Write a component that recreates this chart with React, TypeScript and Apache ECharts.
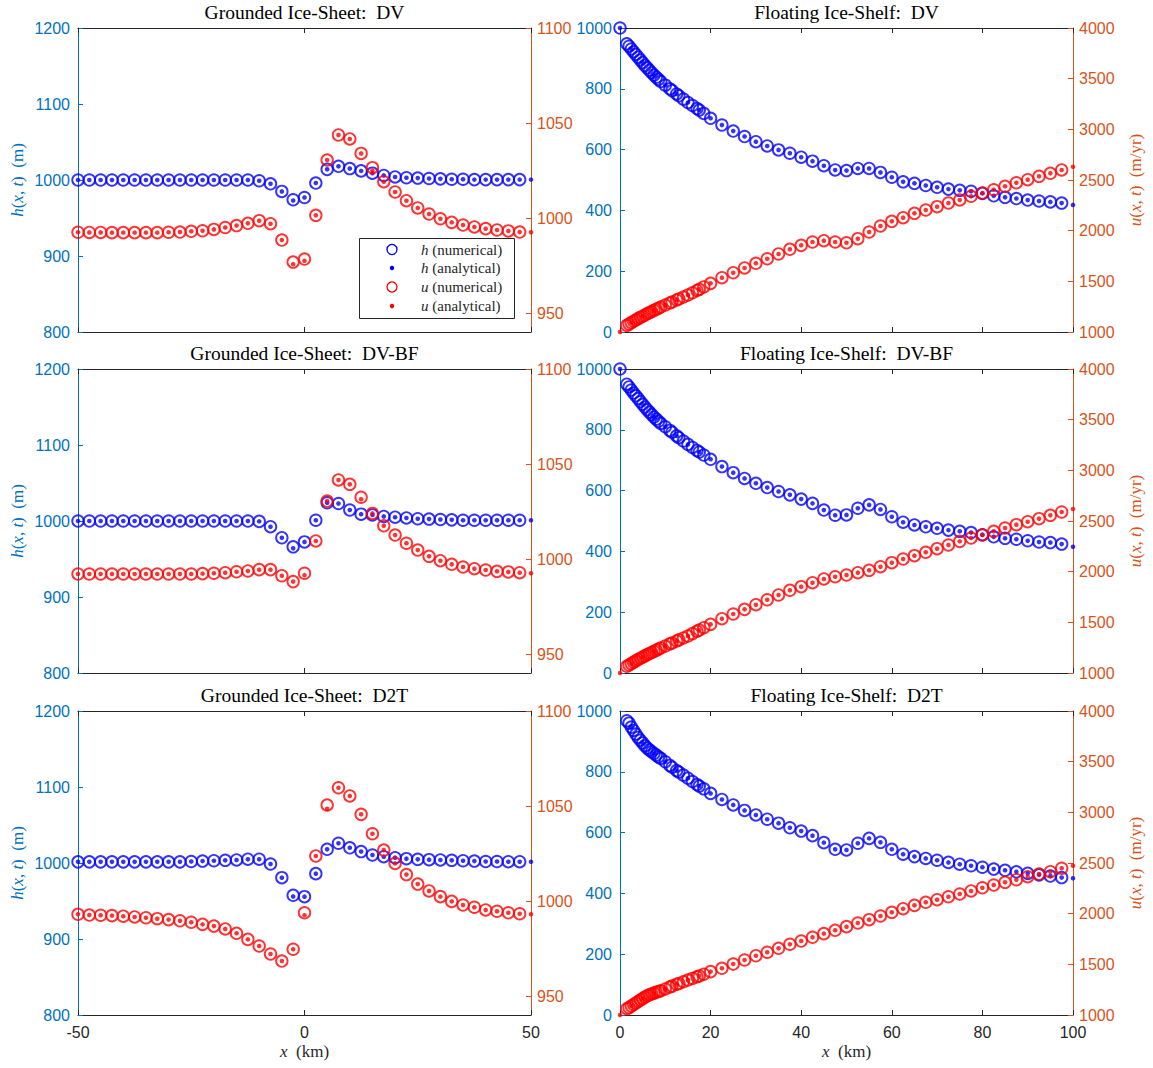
import { useEffect, useRef } from 'react';
import * as echarts from 'echarts';

// x positions (km)
const GROUND_X = [-50, -47.5, -45, -42.5, -40, -37.5, -35, -32.5, -30, -27.5, -25, -22.5, -20, -17.5, -15, -12.5, -10, -7.5, -5, -2.5, 0, 2.5, 5, 7.5, 10, 12.5, 15, 17.5, 20, 22.5, 25, 27.5, 30, 32.5, 35, 37.5, 40, 42.5, 45, 47.5, 50];
const SHELF_X = [0, 2.5, 5, 7.5, 10, 12.5, 15, 17.5, 20, 22.5, 25, 27.5, 30, 32.5, 35, 37.5, 40, 42.5, 45, 47.5, 50, 52.5, 55, 57.5, 60, 62.5, 65, 67.5, 70, 72.5, 75, 77.5, 80, 82.5, 85, 87.5, 90, 92.5, 95, 97.5, 100];
// refined numerical nodes close to the grounding line
const SHELF_FINE_X = [1.5, 2, 3, 3.5, 4, 4.5, 5.5, 6, 6.5, 7, 8, 8.5, 9, 11, 11.5, 13, 14, 16, 17, 18.5];

// Grounded ice-sheet, DV
const dvGroundHNum = [1000, 1000, 1000, 1000, 1000, 1000, 1000, 1000, 1000, 1000, 1000, 1000, 1000, 1000, 1000, 1000, 999, 995, 985, 974, 977, 996, 1014, 1018, 1015, 1012, 1009, 1006, 1004, 1003, 1002.5, 1002, 1001.5, 1001, 1001, 1000.5, 1000.5, 1000.5, 1000.5, 1000.5];
const dvGroundHAna = [1000, 1000, 1000, 1000, 1000, 1000, 1000, 1000, 1000, 1000, 1000, 1000, 1000, 1000, 1000, 1000, 999, 995, 985, 973, 977, 996, 1014, 1018, 1015, 1012, 1009, 1006, 1004, 1003, 1002.5, 1002, 1001.5, 1001, 1001, 1000.5, 1000.5, 1000.5, 1000.5, 1000.5, 1000.5];
const dvGroundUNum = [992.5, 992.4, 992.4, 992.3, 992.3, 992.3, 992.3, 992.3, 992.5, 992.6, 993, 993.3, 994, 995, 996, 997.2, 998.6, 997, 988.4, 976.8, 978.4, 1001.4, 1030.5, 1043.7, 1041.6, 1034, 1026.5, 1019.1, 1013.7, 1009.1, 1005.3, 1002.1, 999.6, 997.7, 996.3, 995.3, 994.4, 993.7, 993.2, 992.6];
const dvGroundUAna = [992.5, 992.4, 992.4, 992.3, 992.3, 992.3, 992.3, 992.3, 992.5, 992.6, 993, 993.3, 994, 995, 996, 997.2, 998.6, 997, 988.4, 975.7, 977.5, 1001.4, 1030.5, 1043.7, 1041.6, 1034, 1025, 1019.1, 1013.7, 1009.1, 1005.3, 1002.1, 999.6, 997.7, 996.3, 995.3, 994.4, 993.7, 993.2, 992.6, 992.5];

// Floating ice-shelf, DV
const dvShelfHNum = [1000, 931, 886, 845, 812, 783, 755, 730, 703, 681, 661, 643, 626, 612, 599, 588, 575, 562, 547, 533, 531, 538, 538, 525, 509, 494, 489, 482, 476, 470, 466, 463, 456, 448, 443, 439, 434, 431, 428, 424];
const dvShelfHAna = [1000, 931, 886, 845, 812, 783, 755, 730, 703, 681, 661, 643, 626, 612, 599, 588, 575, 562, 547, 533, 531, 538, 538, 525, 509, 494, 489, 482, 476, 470, 466, 463, 456, 448, 443, 439, 434, 431, 428, 424, 418];
const dvShelfUNum = [null, 1092, 1156, 1213, 1266, 1316, 1365, 1421, 1480, 1536, 1585, 1632, 1678, 1723, 1770, 1816, 1855, 1888, 1901, 1888, 1881, 1921, 1987, 2046, 2092, 2128, 2171, 2204, 2237, 2273, 2303, 2339, 2372, 2404, 2438, 2473, 2503, 2536, 2566, 2599];
const dvShelfUAna = [1000, 1092, 1156, 1213, 1266, 1316, 1365, 1421, 1480, 1536, 1585, 1632, 1678, 1723, 1770, 1816, 1855, 1888, 1901, 1888, 1881, 1921, 1987, 2046, 2092, 2128, 2171, 2204, 2237, 2273, 2303, 2339, 2372, 2404, 2438, 2473, 2503, 2536, 2566, 2599, 2631];
const dvShelfHFine = [948, 940, 922, 913, 904, 895, 877, 869, 861, 853, 838, 831, 824, 800, 794, 777, 766, 745, 735, 719];
const dvShelfUFine = [1065, 1078, 1106, 1119, 1132, 1144, 1168, 1180, 1191, 1202, 1224, 1235, 1246, 1286, 1296, 1326, 1345, 1387, 1410, 1445];

// Grounded ice-sheet, DV-BF
const bfGroundHNum = [1000, 1000, 1000, 1000, 1000, 1000, 1000, 1000, 1000, 1000, 1000, 1000, 1000, 1000, 1000, 1000, 999.5, 992.5, 978, 966, 972.5, 1001, 1024, 1023, 1014.5, 1009, 1008, 1006, 1005, 1004, 1003, 1002.5, 1002, 1001.5, 1001, 1001, 1001, 1001, 1001, 1001];
const bfGroundHAna = [1000, 1000, 1000, 1000, 1000, 1000, 1000, 1000, 1000, 1000, 1000, 1000, 1000, 1000, 1000, 1000, 999.5, 992.5, 978, 964, 972.5, 1001, 1024, 1023, 1014.5, 1009, 1008, 1006, 1005, 1004, 1003, 1002.5, 1002, 1001.5, 1001, 1001, 1001, 1001, 1001, 1001, 1001];
const bfGroundUNum = [992.1, 992.1, 992.1, 992.1, 992.1, 992.1, 992.1, 992.1, 992.1, 992.1, 992.1, 992.3, 992.5, 992.8, 993.3, 993.7, 994.4, 994.4, 991.2, 988.1, 992.5, 1009.5, 1030.5, 1041.6, 1039.3, 1032.5, 1024, 1017.5, 1012.6, 1008.3, 1004.7, 1001.4, 999.1, 997.2, 995.8, 994.9, 994.2, 993.5, 993.2, 992.8];
const bfGroundUAna = [992.1, 992.1, 992.1, 992.1, 992.1, 992.1, 992.1, 992.1, 992.1, 992.1, 992.1, 992.3, 992.5, 992.8, 993.3, 993.7, 994.4, 994.4, 991.2, 988.1, 991.5, 1009.5, 1030.5, 1041.6, 1039.3, 1031.5, 1024, 1017.5, 1012.6, 1008.3, 1004.7, 1001.4, 999.1, 997.2, 995.8, 994.9, 994.2, 993.5, 993.2, 992.8, 992.5];

// Floating ice-shelf, DV-BF
const bfShelfHNum = [1000, 931, 884, 842, 810, 780, 752, 727, 703, 679, 659, 640, 624, 610, 597, 586, 572, 558, 536, 519, 520, 542, 553, 538, 514, 496, 487, 481, 476, 470, 466, 462, 455, 448, 443, 440, 435, 431, 429, 424];
const bfShelfHAna = [1000, 931, 884, 842, 810, 780, 752, 727, 703, 679, 659, 640, 624, 610, 597, 586, 572, 558, 536, 519, 520, 542, 553, 538, 514, 496, 487, 481, 476, 470, 466, 462, 455, 448, 443, 440, 435, 431, 429, 424, 415];
const bfShelfUNum = [null, 1092, 1156, 1213, 1266, 1316, 1365, 1424, 1480, 1536, 1582, 1628, 1674, 1723, 1770, 1816, 1852, 1891, 1928, 1950, 1967, 1990, 2013, 2049, 2089, 2125, 2158, 2191, 2227, 2263, 2299, 2332, 2362, 2398, 2431, 2464, 2493, 2523, 2556, 2589];
const bfShelfUAna = [1000, 1092, 1156, 1213, 1266, 1316, 1365, 1424, 1480, 1536, 1582, 1628, 1674, 1723, 1770, 1816, 1852, 1891, 1928, 1950, 1967, 1990, 2013, 2049, 2089, 2125, 2158, 2191, 2227, 2263, 2299, 2332, 2362, 2398, 2431, 2464, 2493, 2523, 2556, 2589, 2618];
const bfShelfHFine = [950, 941, 921, 912, 903, 893, 875, 866, 858, 850, 835, 828, 821, 798, 792, 774, 763, 742, 732, 717];
const bfShelfUFine = [1066, 1079, 1107, 1120, 1133, 1145, 1169, 1181, 1192, 1203, 1225, 1236, 1247, 1287, 1297, 1327, 1346, 1389, 1412, 1447];

// Grounded ice-sheet, D2T
const d2tGroundHNum = [1001.5, 1001.5, 1001.5, 1001.5, 1001.5, 1001.5, 1001.5, 1001.5, 1001.5, 1001.5, 1002, 1002.5, 1003, 1003.5, 1004, 1005, 1005, 998.7, 980.7, 957.5, 955.7, 986, 1018, 1026, 1020, 1015, 1010.5, 1008.3, 1007, 1005.7, 1004.8, 1004.4, 1004, 1003.5, 1003, 1002.5, 1002, 1002, 1001.7, 1001.7];
const d2tGroundHAna = [1001.5, 1001.5, 1001.5, 1001.5, 1001.5, 1001.5, 1001.5, 1001.5, 1001.5, 1001.5, 1002, 1002.5, 1003, 1003.5, 1004, 1005, 1005, 998.7, 980.7, 956, 955.7, 986, 1018, 1026, 1020, 1015, 1010.5, 1008.3, 1007, 1005.7, 1004.8, 1004.4, 1004, 1003.5, 1003, 1002.5, 1002, 1002, 1001.7, 1001.7, 1001.7];
const d2tGroundUNum = [993, 992.6, 992.5, 992.3, 992, 991.6, 991.2, 990.7, 990.2, 989.6, 988.8, 987.7, 986.8, 985.3, 983, 979.8, 976.3, 972.1, 968.4, 974.6, 993.8, 1023.7, 1050.5, 1059.6, 1055.3, 1045.6, 1035.4, 1026.8, 1019.8, 1013.9, 1008.9, 1005.3, 1002.3, 999.8, 997.9, 996.7, 995.3, 994.6, 993.8, 993.3];
const d2tGroundUAna = [993, 992.6, 992.5, 992.3, 992, 991.6, 991.2, 990.7, 990.2, 989.6, 988.8, 987.7, 986.8, 985.3, 983, 979.8, 976.3, 972.1, 968.4, 974.6, 992.5, 1023.7, 1048.5, 1059.6, 1055.3, 1045.6, 1035.4, 1026.8, 1019.8, 1013.9, 1008.9, 1005.3, 1002.3, 999.8, 997.9, 996.7, 995.3, 994.6, 993.8, 993.3, 993];

// Floating ice-shelf, D2T
const d2tShelfHNum = [null, 947, 895, 860, 833, 804, 779, 753, 729, 709, 691, 673, 658, 644, 631, 616, 605, 590, 567, 545, 543, 565, 581, 568, 545, 529, 521, 515, 509, 502, 496, 491, 486, 480, 476, 471, 466, 461, 457, 452];
const d2tShelfHAna = [null, 947, 895, 860, 833, 804, 779, 753, 729, 709, 691, 673, 658, 644, 631, 616, 605, 590, 567, 545, 543, 565, 581, 568, 545, 529, 521, 515, 509, 502, 496, 491, 486, 480, 476, 471, 466, 461, 457, 452, 450];
const d2tShelfUNum = [null, 1088, 1162, 1216, 1257, 1303, 1345, 1385, 1428, 1461, 1503, 1543, 1585, 1619, 1658, 1698, 1730, 1767, 1803, 1836, 1872, 1908, 1941, 1977, 2013, 2049, 2082, 2112, 2138, 2167, 2194, 2224, 2256, 2283, 2309, 2335, 2365, 2391, 2414, 2448];
const d2tShelfUAna = [1000, 1088, 1162, 1216, 1257, 1303, 1345, 1385, 1428, 1461, 1503, 1543, 1585, 1619, 1658, 1698, 1730, 1767, 1803, 1836, 1872, 1908, 1941, 1977, 2013, 2049, 2082, 2112, 2138, 2167, 2194, 2224, 2256, 2283, 2309, 2335, 2365, 2391, 2414, 2448, 2473];
const d2tShelfHFine = [968, 960, 936, 924, 913, 904, 886, 878, 872, 866, 855, 849, 844, 821, 815, 799, 789, 768, 758, 744];
const d2tShelfUFine = [1062, 1073, 1103, 1118, 1133, 1148, 1176, 1190, 1200, 1208, 1224, 1232, 1240, 1276, 1285, 1311, 1328, 1361, 1377, 1402];

// Axis ranges and ticks
const GROUND_X_RANGE = [-50, 50, 50];
const SHELF_X_RANGE = [0, 100, 20];
const GROUND_H_RANGE = [800, 1200, 100];
const SHELF_H_RANGE = [0, 1000, 200];
const GROUND_U_RANGE = [940, 1100];
const GROUND_U_TICKS = [950, 1000, 1050, 1100];
const SHELF_U_RANGE = [1000, 4000, 500];

const LEGEND_LABELS = ['(numerical)', '(analytical)', '(numerical)', '(analytical)'];

const PANELS = [
  { title: 'Grounded Ice-Sheet:  DV', hNum: dvGroundHNum, hAna: dvGroundHAna, uNum: dvGroundUNum, uAna: dvGroundUAna },
  { title: 'Floating Ice-Shelf:  DV', hNum: dvShelfHNum, hAna: dvShelfHAna, uNum: dvShelfUNum, uAna: dvShelfUAna, hFine: dvShelfHFine, uFine: dvShelfUFine },
  { title: 'Grounded Ice-Sheet:  DV-BF', hNum: bfGroundHNum, hAna: bfGroundHAna, uNum: bfGroundUNum, uAna: bfGroundUAna },
  { title: 'Floating Ice-Shelf:  DV-BF', hNum: bfShelfHNum, hAna: bfShelfHAna, uNum: bfShelfUNum, uAna: bfShelfUAna, hFine: bfShelfHFine, uFine: bfShelfUFine },
  { title: 'Grounded Ice-Sheet:  D2T', hNum: d2tGroundHNum, hAna: d2tGroundHAna, uNum: d2tGroundUNum, uAna: d2tGroundUAna },
  { title: 'Floating Ice-Shelf:  D2T', hNum: d2tShelfHNum, hAna: d2tShelfHAna, uNum: d2tShelfUNum, uAna: d2tShelfUAna, hFine: d2tShelfHFine, uFine: d2tShelfUFine },
];

const BLUE = '#0000ff';
const RED = '#ff0000';
const AXIS_LEFT = '#0072bd';
const AXIS_RIGHT = '#d95319';
const AXIS_DARK = '#262626';
const SERIF = '"Liberation Serif", "DejaVu Serif", serif';
const SANS = '"Liberation Sans", Arial, Helvetica, sans-serif';

const GRID_LEFT = [78, 620];
const GRID_TOP = [28, 369, 711];
const GRID_W = 453;
const GRID_H = 304;

const plain = (v: number) => String(v);

function pairs(xs: number[], ys: (number | null)[]) {
  const out: number[][] = [];
  const n = Math.min(xs.length, ys.length);
  for (let i = 0; i < n; i++) {
    const y = ys[i];
    if (y !== null && y !== undefined) out.push([xs[i], y]);
  }
  return out;
}

function nameStyle(color: string) {
  return {
    color,
    fontFamily: SERIF,
    fontSize: 17,
    rich: { i: { fontStyle: 'italic', fontFamily: SERIF, fontSize: 17, color } },
  };
}

function buildOption() {
  const grid: any[] = [];
  const xAxis: any[] = [];
  const yAxis: any[] = [];
  const series: any[] = [];
  const graphic: any[] = [];

  PANELS.forEach((p: any, k) => {
    const r = Math.floor(k / 2);
    const c = k % 2;
    const left = GRID_LEFT[c];
    const top = GRID_TOP[r];
    grid.push({ left, top, width: GRID_W, height: GRID_H, containLabel: false, outerBoundsMode: 'none' });

    const xr = c ? SHELF_X_RANGE : GROUND_X_RANGE;
    const hr = c ? SHELF_H_RANGE : GROUND_H_RANGE;

    const tick = (color: string) => ({ show: true, inside: true, length: 5, lineStyle: { color, width: 1 } });
    const line = (color: string) => ({ show: true, onZero: false, lineStyle: { color, width: 1 } });

    xAxis.push({
      type: 'value', gridIndex: k, position: 'bottom',
      min: xr[0], max: xr[1], interval: xr[2],
      axisLine: line(AXIS_DARK), axisTick: tick(AXIS_DARK),
      axisLabel: { show: r === 2, color: AXIS_DARK, fontSize: 16, fontFamily: SANS, margin: 9, formatter: plain },
      splitLine: { show: false },
      name: r === 2 ? '{i|x}  (km)' : '', nameLocation: 'middle', nameGap: 28,
      nameTextStyle: nameStyle(AXIS_DARK),
    });
    xAxis.push({
      type: 'value', gridIndex: k, position: 'top',
      min: xr[0], max: xr[1], interval: xr[2],
      axisLine: line(AXIS_DARK), axisTick: tick(AXIS_DARK),
      axisLabel: { show: false }, splitLine: { show: false },
    });

    yAxis.push({
      type: 'value', gridIndex: k, position: 'left',
      min: hr[0], max: hr[1], interval: hr[2],
      axisLine: line(AXIS_LEFT), axisTick: tick(AXIS_LEFT),
      axisLabel: { color: AXIS_LEFT, fontSize: 16, fontFamily: SANS, margin: 8, formatter: plain },
      splitLine: { show: false },
      name: c === 0 ? '{i|h}({i|x}, {i|t})  (m)' : '', nameLocation: 'middle', nameRotate: 90, nameGap: 52,
      nameTextStyle: nameStyle(AXIS_LEFT),
    });
    if (c === 0) {
      yAxis.push({
        type: 'value', gridIndex: k, position: 'right',
        min: GROUND_U_RANGE[0], max: GROUND_U_RANGE[1],
        axisLine: line(AXIS_RIGHT),
        axisTick: { ...tick(AXIS_RIGHT), customValues: GROUND_U_TICKS },
        axisLabel: { color: AXIS_RIGHT, fontSize: 16, fontFamily: SANS, margin: 6, customValues: GROUND_U_TICKS, formatter: plain },
        splitLine: { show: false },
      });
    } else {
      yAxis.push({
        type: 'value', gridIndex: k, position: 'right',
        min: SHELF_U_RANGE[0], max: SHELF_U_RANGE[1], interval: SHELF_U_RANGE[2],
        axisLine: line(AXIS_RIGHT), axisTick: tick(AXIS_RIGHT),
        axisLabel: { color: AXIS_RIGHT, fontSize: 16, fontFamily: SANS, margin: 6, formatter: plain },
        splitLine: { show: false },
        name: '{i|u}({i|x}, {i|t})  (m/yr)', nameLocation: 'middle', nameRotate: 90, nameGap: 54,
        nameTextStyle: nameStyle(AXIS_RIGHT),
      });
    }

    const xs = c ? SHELF_X : GROUND_X;
    let hN = pairs(xs, p.hNum);
    let uN = pairs(xs, p.uNum);
    if (c) {
      hN = hN.concat(pairs(SHELF_FINE_X, p.hFine));
      uN = uN.concat(pairs(SHELF_FINE_X, p.uFine));
    }
    const ring = (color: string) => ({
      type: 'scatter', xAxisIndex: 2 * k, symbol: 'circle', symbolSize: 11.5, silent: true,
      itemStyle: { color: 'rgba(0,0,0,0)', borderColor: color, borderWidth: 1.9 },
    });
    const dot = (color: string) => ({
      type: 'scatter', xAxisIndex: 2 * k, symbol: 'circle', symbolSize: 4.6, silent: true,
      itemStyle: { color, borderWidth: 0 },
    });
    series.push({ ...ring(BLUE), yAxisIndex: 2 * k, data: hN });
    series.push({ ...dot(BLUE), yAxisIndex: 2 * k, data: pairs(xs, p.hAna) });
    series.push({ ...ring(RED), yAxisIndex: 2 * k + 1, data: uN });
    series.push({ ...dot(RED), yAxisIndex: 2 * k + 1, data: pairs(xs, p.uAna) });

    graphic.push({
      type: 'text', x: left + GRID_W / 2, y: top - 16, z: 100, silent: true,
      style: {
        text: p.title, fontFamily: SERIF, fontSize: 19.5, fill: '#000',
        align: 'center', textAlign: 'center', verticalAlign: 'middle', textVerticalAlign: 'middle',
      },
    });
  });

  // legend of the first panel
  const lgX = 359, lgY = 238, lgW = 155, lgH = 80;
  graphic.push({
    type: 'rect', z: 100, silent: true,
    shape: { x: lgX + 0.5, y: lgY + 0.5, width: lgW, height: lgH },
    style: { fill: '#fff', stroke: AXIS_DARK, lineWidth: 1 },
  });
  const rowsY = [249.5, 268, 287, 306];
  const symbols = ['h', 'h', 'u', 'u'];
  rowsY.forEach((yy, j) => {
    const color = j < 2 ? BLUE : RED;
    const hollow = j % 2 === 0;
    graphic.push({
      type: 'circle', z: 101, silent: true,
      shape: { cx: 392, cy: yy, r: hollow ? 5 : 2.2 },
      style: hollow ? { fill: 'none', stroke: color, lineWidth: 1.3 } : { fill: color },
    });
    graphic.push({
      type: 'text', z: 101, silent: true, x: 421, y: yy,
      style: {
        text: '{i|' + symbols[j] + '} ' + LEGEND_LABELS[j],
        fontFamily: SERIF, fontSize: 15, fill: AXIS_DARK,
        verticalAlign: 'middle', textVerticalAlign: 'middle', align: 'left', textAlign: 'left',
        rich: { i: { fontStyle: 'italic', fontFamily: SERIF, fontSize: 15, fill: AXIS_DARK } },
      },
    });
  });

  return { animation: false, backgroundColor: '#ffffff', grid, xAxis, yAxis, series, graphic };
}

export default function App() {
  const ref = useRef<HTMLDivElement>(null);
  useEffect(() => {
    if (!ref.current) return;
    const chart = echarts.init(ref.current, undefined, { renderer: 'svg' });
    chart.setOption(buildOption() as any);
    return () => chart.dispose();
  }, []);
  return (
    <div
      ref={ref}
      style={{ position: 'absolute', left: 0, top: 0, width: 1153, height: 1068, background: '#fff' }}
    />
  );
}
